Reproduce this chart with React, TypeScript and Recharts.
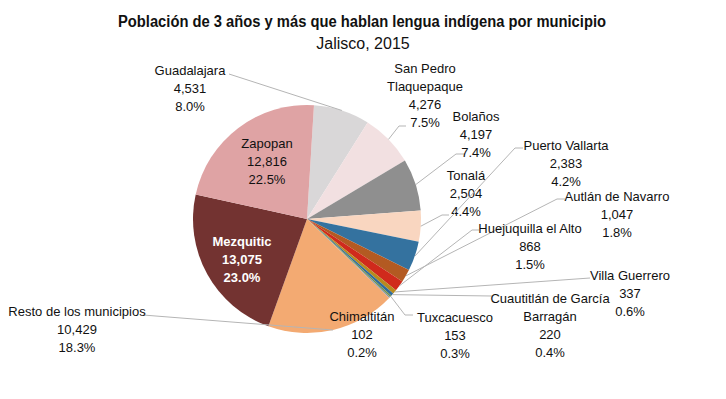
import { PieChart, Pie, Cell } from 'recharts'

const municipios = [
  'Guadalajara',
  'San Pedro\nTlaquepaque',
  'Bolaños',
  'Tonalá',
  'Puerto Vallarta',
  'Autlán de Navarro',
  'Huejuquilla el Alto',
  'Villa Guerrero',
  'Cuautitlán de García\nBarragán',
  'Tuxcacuesco',
  'Chimaltitán',
  'Resto de los municipios',
  'Mezquitic',
  'Zapopan',
]

const poblacion = [4531, 4276, 4197, 2504, 2383, 1047, 868, 337, 220, 153, 102, 10429, 13075, 12816]

const colores = [
  '#d9d7d8',
  '#f2e0e1',
  '#8f8f8f',
  '#f9d6c0',
  '#34729f',
  '#b35a22',
  '#d02a1c',
  '#b88a1e',
  '#2f6c9c',
  '#6f9050',
  '#8a9aa8',
  '#f3aa72',
  '#733331',
  '#dfa3a4',
]

// where each label sits (text centre x, first baseline y) and where its leader line ends
type LabelPos = {
  tx: number
  ty: number
  end?: [number, number]
  elbow?: [number, number]
  fill?: string
  bold?: boolean
}

const labelPos: LabelPos[] = [
  { tx: 190, ty: 75, end: [229, 74] },
  { tx: 425, ty: 73, elbow: [399, 126], end: [406, 126] },
  { tx: 476, ty: 121, elbow: [456, 154], end: [465, 154] },
  { tx: 466, ty: 180, elbow: [442, 215], end: [449, 215] },
  { tx: 566, ty: 150, elbow: [515, 148], end: [523, 148] },
  { tx: 617, ty: 201, elbow: [557, 199], end: [565, 199] },
  { tx: 530, ty: 233, elbow: [472, 230], end: [479, 230] },
  { tx: 630, ty: 280, end: [590, 278] },
  { tx: 550, ty: 303, end: [492, 296] },
  { tx: 455, ty: 322, elbow: [405, 315], end: [413, 315] },
  { tx: 362, ty: 321 },
  { tx: 77, ty: 316, end: [143, 315] },
  { tx: 242, ty: 246, fill: '#ffffff', bold: true },
  { tx: 267, ty: 148 },
]

const data = municipios.map((name, i) => ({ name, value: poblacion[i] }))

const FONT = '"Liberation Sans", Arial, sans-serif'
const RADIAN = Math.PI / 180

function renderLabel(props: any) {
  const { cx, cy, midAngle, outerRadius, index, percent, value, name } = props
  const pos = labelPos[index]
  const lines = [...String(name).split('\n'), value.toLocaleString('en-US'), (percent * 100).toFixed(1) + '%']
  const ax = cx + outerRadius * Math.cos(-midAngle * RADIAN)
  const ay = cy + outerRadius * Math.sin(-midAngle * RADIAN)
  let points = ''
  if (pos.end) {
    const pts = [[ax, ay]]
    if (pos.elbow) pts.push(pos.elbow)
    pts.push(pos.end)
    points = pts.map((p) => p.join(',')).join(' ')
  }
  return (
    <g key={'lbl' + index}>
      {points && <polyline points={points} fill="none" stroke="#b5b5b5" strokeWidth={1} />}
      <text
        x={pos.tx}
        y={pos.ty}
        textAnchor="middle"
        fontFamily={FONT}
        fontSize={13}
        fontWeight={pos.bold ? 'bold' : 'normal'}
        fill={pos.fill || '#111111'}
      >
        {lines.map((l, j) => (
          <tspan key={j} x={pos.tx} dy={j === 0 ? 0 : 18}>
            {l}
          </tspan>
        ))}
      </text>
    </g>
  )
}

export default function App() {
  return (
    <div style={{ position: 'absolute', left: 0, top: 0, width: 726, height: 399, background: '#fff' }}>
      <PieChart width={726} height={399} margin={{ top: 0, right: 0, bottom: 0, left: 0 }}>
        <text
          x={362}
          y={27}
          textAnchor="middle"
          fontFamily={FONT}
          fontSize={16}
          fontWeight="bold"
          fill="#111"
          textLength={488}
          lengthAdjust="spacingAndGlyphs"
        >
          Población de 3 años y más que hablan lengua indígena por municipio
        </text>
        <text x={363} y={49} textAnchor="middle" fontFamily={FONT} fontSize={16} fill="#111">
          Jalisco, 2015
        </text>
        <Pie
          data={data}
          dataKey="value"
          nameKey="name"
          cx={307}
          cy={219}
          outerRadius={114}
          startAngle={86.5}
          endAngle={-273.5}
          stroke="none"
          label={renderLabel}
          labelLine={false}
          isAnimationActive={false}
        >
          {data.map((d, i) => (
            <Cell key={d.name} fill={colores[i]} />
          ))}
        </Pie>
      </PieChart>
    </div>
  )
}
